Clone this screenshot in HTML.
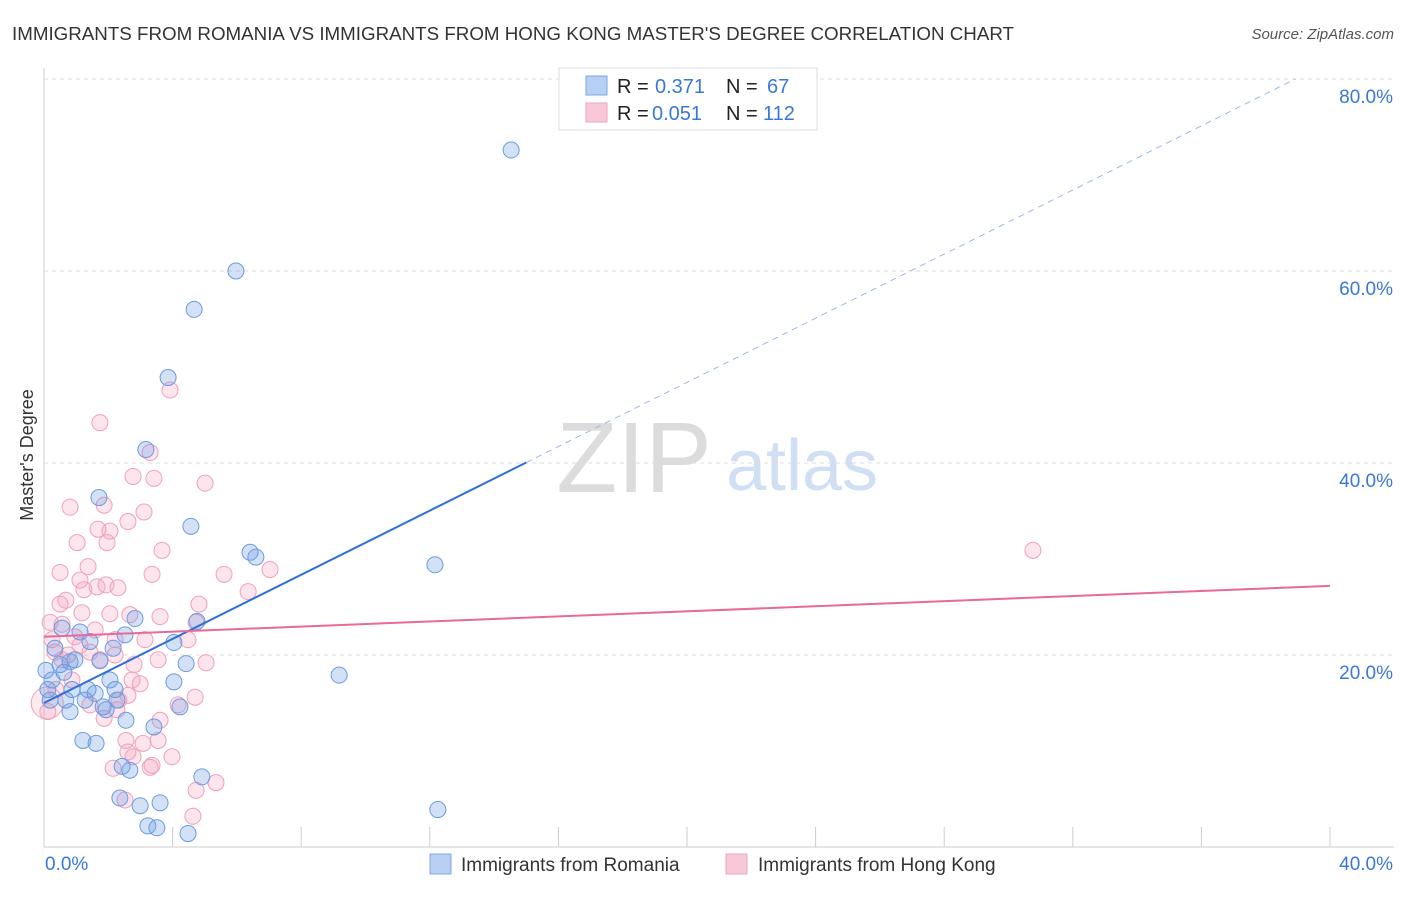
<!DOCTYPE html>
<html><head><meta charset="utf-8">
<style>
body{margin:0;background:#fff;font-family:"Liberation Sans",sans-serif;}
svg text{font-family:"Liberation Sans",sans-serif;}
</style></head>
<body>
<svg id="chart" width="1406" height="892">
<text x="12" y="40" font-size="18" fill="#333" textLength="1002" lengthAdjust="spacingAndGlyphs">IMMIGRANTS FROM ROMANIA VS IMMIGRANTS FROM HONG KONG MASTER'S DEGREE CORRELATION CHART</text>
<text x="1394" y="39" font-size="15" fill="#555" font-style="italic" text-anchor="end">Source: ZipAtlas.com</text>
<text x="33" y="455" font-size="18" fill="#333" text-anchor="middle" transform="rotate(-90 33 455)">Master's Degree</text>
<g>
<text x="634" y="492" font-size="100" fill="#dcdcdc" text-anchor="middle" font-family="Liberation Serif">ZIP</text>
<text x="802" y="490" font-size="72" fill="#d0dff4" text-anchor="middle">atlas</text>
</g>
<g id="grid"></g><g id="marks"></g><g id="trend"></g>
<g>
<rect x="559" y="68" width="258" height="62" fill="#fff" stroke="#ddd"/>
<rect x="586" y="76" width="21" height="19" fill="#b7cff2" stroke="#7ea6e6"/>
<rect x="586" y="103" width="21" height="19" fill="#f9c8d7" stroke="#eea3bd"/>
<text x="617" y="93" font-size="20" fill="#222">R = </text><text x="655" y="93" font-size="20" fill="#3a78d8">0.371</text>
<text x="726" y="93" font-size="20" fill="#222">N = </text><text x="767" y="93" font-size="20" fill="#3a78d8">67</text>
<text x="617" y="120" font-size="20" fill="#222">R = </text><text x="652" y="120" font-size="20" fill="#3a78d8">0.051</text>
<text x="726" y="120" font-size="20" fill="#222">N = </text><text x="763" y="120" font-size="20" fill="#3a78d8">112</text>
</g>
<g>
<rect x="430" y="854" width="21" height="20" fill="#b7cff2" stroke="#7ea6e6"/>
<text x="461" y="871" font-size="19" fill="#333">Immigrants from Romania</text>
<rect x="726" y="854" width="21" height="20" fill="#f9c8d7" stroke="#eea3bd"/>
<text x="758" y="871" font-size="19" fill="#333">Immigrants from Hong Kong</text>
</g>
</svg>
<script>
const xTicks=[0,4,8,12,16,20,24,28,32,36,40];
const yTicks=[20,40,60,80];
const blueX=[14.53,5.97,4.67,3.86,3.17,1.71,4.57,6.41,6.59,12.16,9.18,2.83,4.76,2.52,4.04,2.15,4.42,4.04,4.23,3.42,0.34,0.50,0.81,0.96,0.25,0.62,0.19,0.87,1.37,1.59,2.05,1.84,1.93,2.27,2.55,1.21,1.62,2.43,2.67,4.91,2.36,2.99,3.61,3.23,3.51,4.48,12.25,1.12,1.43,1.74,0.12,0.68,0.56,1.28,2.21,0.06,0.81];
const blueY=[72.6,60.0,56.0,48.9,41.4,36.4,33.4,30.7,30.2,29.4,17.9,23.8,23.5,22.1,21.3,20.7,19.1,17.2,14.6,12.5,20.7,19.0,19.3,19.5,17.4,18.2,15.3,16.4,16.4,16.0,17.4,14.6,14.3,15.3,13.2,11.1,10.8,8.4,8.0,7.3,5.1,4.3,4.6,2.2,2.0,1.4,3.9,22.4,21.4,19.4,16.4,15.3,22.8,15.3,16.4,18.4,14.1];
const pinkX=[1.74,3.92,3.30,5.01,2.77,3.42,0.81,1.87,2.61,3.11,2.05,1.68,1.96,1.03,3.67,5.60,7.03,6.35,3.36,1.37,0.50,2.30,1.12,1.24,0.68,0.50,1.65,2.05,2.67,3.61,4.82,4.73,4.48,5.04,3.55,2.80,0.56,0.96,1.59,0.25,0.34,1.43,2.21,30.76,4.70,4.17,2.74,2.99,2.33,2.61,2.27,1.87,3.61,2.55,3.08,3.55,3.98,2.77,2.61,3.36,3.30,2.15,4.73,5.35,4.63,2.52,0.12,0.37,0.87,1.43,0.56,1.74,1.18,0.75,3.14,1.93,0.19,1.12,2.21];
const pinkY=[44.2,47.6,41.1,37.9,38.6,38.4,35.4,35.6,33.9,34.9,32.9,33.1,31.7,31.7,30.9,28.4,28.9,26.6,28.4,29.2,28.6,27.0,27.8,26.8,25.7,25.3,27.1,24.3,24.2,24.0,25.3,23.4,21.6,19.2,19.5,19.0,23.2,21.9,22.6,21.6,20.3,20.3,20.0,30.9,15.6,14.8,17.4,17.0,15.3,15.8,14.3,13.4,13.2,11.1,10.8,11.1,9.4,9.4,9.9,8.5,8.3,8.2,5.9,6.7,3.2,4.9,14.1,16.4,17.4,14.8,19.5,19.5,24.4,20.0,21.6,27.3,23.4,21.0,21.6];
const blueTrend=[15.0,1.67];
const pinkTrend=[21.9,0.1325];

const NS="http://www.w3.org/2000/svg";
const X=v=>44+v*32.15;
const Y=v=>847-v*9.6;
function mk(tag,attrs,parent){const e=document.createElementNS(NS,tag);for(const k in attrs)e.setAttribute(k,attrs[k]);parent.appendChild(e);return e;}
const grid=document.getElementById('grid'),marks=document.getElementById('marks'),trend=document.getElementById('trend');
mk('line',{x1:44,y1:68,x2:44,y2:847,stroke:'#ccc'},grid);
mk('line',{x1:44,y1:847,x2:1394,y2:847,stroke:'#ccc'},grid);
yTicks.forEach(t=>{
 const l=mk('line',{x1:44,y1:Y(t),x2:1394,y2:Y(t),stroke:'#ddd','stroke-dasharray':'4,4'},grid);
 
 
 const tx=mk('text',{x:1393,y:Y(t)+24,'font-size':19,fill:'#3a78d8','text-anchor':'end'},grid);
 tx.textContent=t.toFixed(1)+'%';
 
 
});
xTicks.forEach(t=>{
 const l=mk('line',{x1:X(t),y1:827,x2:X(t),y2:847,stroke:'#ccc'},grid);
 
 
});
[[0,'start',45],[40,'end',1393]].forEach(([t,a,x])=>{
 const tx=mk('text',{x:x,y:870,'font-size':19,fill:'#3a78d8','text-anchor':a},grid);
 tx.textContent=t.toFixed(1)+'%';
 
 
});
const big=mk('circle',{cx:X(0.1),cy:Y(15),r:16,fill:'rgba(240,150,180,0.2)',stroke:'#f0a0bb'},marks);


pinkX.forEach((v,i)=>{
 const c=mk('circle',{cx:X(v),cy:Y(pinkY[i]),r:8,fill:'rgba(244,160,190,0.28)',stroke:'#f0a0bb','stroke-width':1},marks);
 
 
});
blueX.forEach((v,i)=>{
 const c=mk('circle',{cx:X(v),cy:Y(blueY[i]),r:8,fill:'rgba(110,155,230,0.3)',stroke:'#6d9be0','stroke-width':1},marks);
 
 
});
const bEnd=15;
let l=mk('line',{x1:X(0),y1:Y(blueTrend[0]),x2:X(bEnd),y2:Y(blueTrend[0]+blueTrend[1]*bEnd),stroke:'#2f6fd6','stroke-width':2},trend);


const bMax=(80-blueTrend[0])/blueTrend[1];
l=mk('line',{x1:X(bEnd),y1:Y(blueTrend[0]+blueTrend[1]*bEnd),x2:X(bMax),y2:Y(80),stroke:'#9bb8e8','stroke-width':1,'stroke-dasharray':'6,5'},trend);


l=mk('line',{x1:X(0),y1:Y(pinkTrend[0]),x2:X(40),y2:Y(pinkTrend[0]+pinkTrend[1]*40),stroke:'#e8699a','stroke-width':2},trend);


</script>
</body></html>
